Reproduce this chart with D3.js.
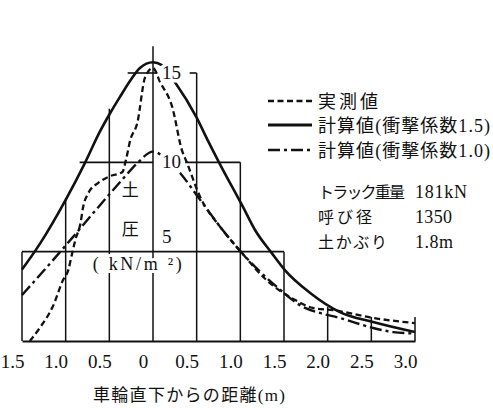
<!DOCTYPE html>
<html>
<head>
<meta charset="utf-8">
<script src="https://cdn.jsdelivr.net/npm/d3@7"></script>
<style>
  html, body { margin: 0; padding: 0; background: #fff; }
  svg { display: block; }
  text { font-family: 'Liberation Serif', 'Noto Sans CJK JP', serif; fill: #111; }
</style>
</head>
<body>
<script>
// ---------- data ----------
const distances = [-1.5, -1.0, -0.5, 0, 0.5, 1.0, 1.5, 2.0, 2.5, 3.0];
const distanceLabels = ["1.5", "1.0", "0.5", "0", "0.5", "1.0", "1.5", "2.0", "2.5", "3.0"];
const gaugeTops = [5, 8.0, 13.0, 16.5, 15, 10, 5, 1.9, 1.35, 1.35];

const gridLevel = [5, 10, 10, 15, 15];
const gridFrom  = [-1.5, -0.84, 0.37, -0.29, 0.42];
const gridTo    = [1.5, 0.0, 1.0, 0.05, 0.5];

const levelLabels = [15, 10, 5];

// 実測値 (measured)
const measuredX = [-1.41, -1.29, -1.15, -1.03, -0.97, -0.93, -0.89, -0.83, -0.80, -0.74, -0.63, -0.49, -0.35, -0.31, -0.26, -0.18, -0.09, 0, 0.08, 0.22, 0.33, 0.39, 0.54, 0.77, 1.02, 1.28, 1.63, 1.83, 2.06, 2.52, 3.0];
const measuredY = [0, 0.78, 1.9, 3.41, 3.97, 4.81, 5.65, 6.6, 7.5, 8.28, 8.84, 9.23, 9.46, 10.13, 11.25, 12.2, 14.77, 15.28, 14.5, 13.1, 10.7, 9.96, 8.06, 6.38, 4.92, 3.5, 2.29, 1.85, 1.73, 1.29, 1.0];

// 計算値 (衝撃係数1.5)
const calc15X = [-1.5, -1.29, -1.0, -0.78, -0.61, -0.49, -0.38, -0.24, -0.15, 0, 0.1, 0.25, 0.5, 0.63, 0.76, 1.02, 1.17, 1.36, 1.51, 1.8, 2.14, 2.52, 3.0];
const calc15Y = [4.0, 5.48, 7.9, 9.96, 11.7, 12.76, 13.65, 14.72, 15.28, 15.6, 15.44, 14.5, 12.5, 11.2, 9.96, 7.6, 6.2, 4.92, 3.97, 2.69, 1.62, 1.06, 0.5];

// 計算値 (衝撃係数1.0)
const calc10X = [-1.5, -1.15, -0.92, -0.66, -0.34, -0.18, 0, 0.15, 0.31, 0.54, 0.8, 1.02, 1.42, 1.72, 1.91, 2.14, 2.52, 2.75, 3.0];
const calc10Y = [2.57, 4.5, 5.8, 7.3, 9.1, 9.95, 10.6, 10.2, 9.4, 7.9, 6.2, 4.92, 3.02, 1.9, 1.57, 1.29, 0.73, 0.5, 0.42];

const legendLabels = ["実測値", "計算値(衝撃係数1.5)", "計算値(衝撃係数1.0)"];
const infoNames = ["トラック重量", "呼び径", "土かぶり"];
const infoValues = ["181kN", "1350", "1.8m"];
const xTitle = "車輪直下からの距離(m)";
const yTitle = ["土", "圧"];
const yUnit = "( kN/m ²)";

// ---------- drawing ----------
const W = 493, H = 408;
const svg = d3.select("body").append("svg").attr("width", W).attr("height", H);
svg.append("rect").attr("width", W).attr("height", H).attr("fill", "#fff");

const x = d3.scaleLinear().domain([-1.5, 3.0]).range([22, 415]);
const y = d3.scaleLinear().domain([0, 15]).range([341, 73]);

const ink = "#111";

// vertical gauge lines
svg.append("g").selectAll("line").data(distances).join("line")
  .attr("x1", d => x(d)).attr("x2", d => x(d))
  .attr("y1", y(0)).attr("y2", (d, i) => y(gaugeTops[i]))
  .attr("stroke", ink).attr("stroke-width", 1.5);

// horizontal level lines
svg.append("g").selectAll("line").data(gridLevel).join("line")
  .attr("x1", (d, i) => x(gridFrom[i])).attr("x2", (d, i) => x(gridTo[i]))
  .attr("y1", d => y(d)).attr("y2", d => y(d))
  .attr("stroke", ink).attr("stroke-width", 1.6);

// x axis
const xAxis = d3.axisBottom(x).tickValues(distances)
  .tickFormat((d, i) => distanceLabels[i]).tickSize(0).tickSizeOuter(0).tickPadding(0);
const gx = svg.append("g").attr("transform", `translate(0,${y(0)})`).call(xAxis);
gx.select(".domain").attr("stroke", ink).attr("stroke-width", 2.2);
gx.selectAll(".tick text")
  .attr("dy", null).attr("y", 27).attr("dx", -10)
  .style("font-size", "19px").style("font-family", "'Liberation Serif', serif").attr("fill", ink);

// curves
const line = d3.line().x(d => x(d[0])).y(d => y(d[1])).curve(d3.curveMonotoneX);
const series = [
  { xs: measuredX, ys: measuredY, dash: "6,3.5", w: 2.3 },
  { xs: calc15X, ys: calc15Y, dash: null, w: 2.6 },
  { xs: calc10X, ys: calc10Y, dash: "12,4,3,4", w: 2.4 }
];
series.forEach(s => {
  svg.append("path")
    .datum(s.xs.map((v, i) => [v, s.ys[i]]))
    .attr("d", line)
    .attr("fill", "none").attr("stroke", ink).attr("stroke-width", s.w)
    .attr("stroke-dasharray", s.dash);
});

// in-plot labels with white halo
function halo(sel, w) {
  return sel.attr("stroke", "#fff").attr("stroke-width", w || 6)
    .attr("paint-order", "stroke").attr("stroke-linejoin", "round");
}
svg.append("g").selectAll("text").data(levelLabels).join("text")
  .attr("x", x(0) + 9)
  .attr("y", d => y(d) + (d === 5 ? -9 : 6))
  .style("font-size", "19px").style("font-family", "'Liberation Serif', serif")
  .text(d => d)
  .call(halo, 7);

svg.append("g").selectAll("text").data(yTitle).join("text")
  .attr("x", x(-0.26)).attr("y", (d, i) => y(8.55) + i * 39)
  .attr("text-anchor", "middle").attr("dominant-baseline", "central")
  .style("font-size", "17px").style("font-family", "'Noto Sans CJK JP', sans-serif")
  .text(d => d).call(halo, 5);

svg.append("text")
  .attr("x", x(-0.18)).attr("y", y(4.3))
  .attr("text-anchor", "middle").attr("dominant-baseline", "central")
  .attr("textLength", 89).attr("lengthAdjust", "spacing")
  .style("font-size", "18px")
  .text(yUnit).call(halo, 6);

// x title
svg.append("text")
  .attr("x", 93).attr("y", 395).attr("dominant-baseline", "central")
  .attr("textLength", 192).attr("lengthAdjust", "spacing")
  .style("font-size", "17px")
  .text(xTitle);

// legend
const legY = [101, 125, 150];
const legWidths = [60, 172, 172];
const lg = svg.append("g");
series.forEach((s, i) => {
  lg.append("line").attr("x1", 268).attr("x2", 312).attr("y1", legY[i]).attr("y2", legY[i])
    .attr("stroke", ink).attr("stroke-width", s.w + 0.3).attr("stroke-dasharray", s.dash);
  lg.append("text").attr("x", 318).attr("y", legY[i] + 1).attr("dominant-baseline", "central")
    .attr("textLength", legWidths[i]).attr("lengthAdjust", "spacing")
    .style("font-size", "18px").text(legendLabels[i]);
});

// info block
const infoY = [192, 217, 242];
const infoNameW = [87, 54, 69];
const infoValW = [52, 37, 38];
infoNames.forEach((n, i) => {
  lg.append("text").attr("x", 318).attr("y", infoY[i]).attr("dominant-baseline", "central")
    .attr("textLength", infoNameW[i]).attr("lengthAdjust", "spacing")
    .style("font-size", "16px").text(n);
  lg.append("text").attr("x", 415).attr("y", infoY[i]).attr("dominant-baseline", "central")
    .attr("textLength", infoValW[i]).attr("lengthAdjust", "spacing")
    .style("font-size", "18px").text(infoValues[i]);
});
</script>
</body>
</html>
